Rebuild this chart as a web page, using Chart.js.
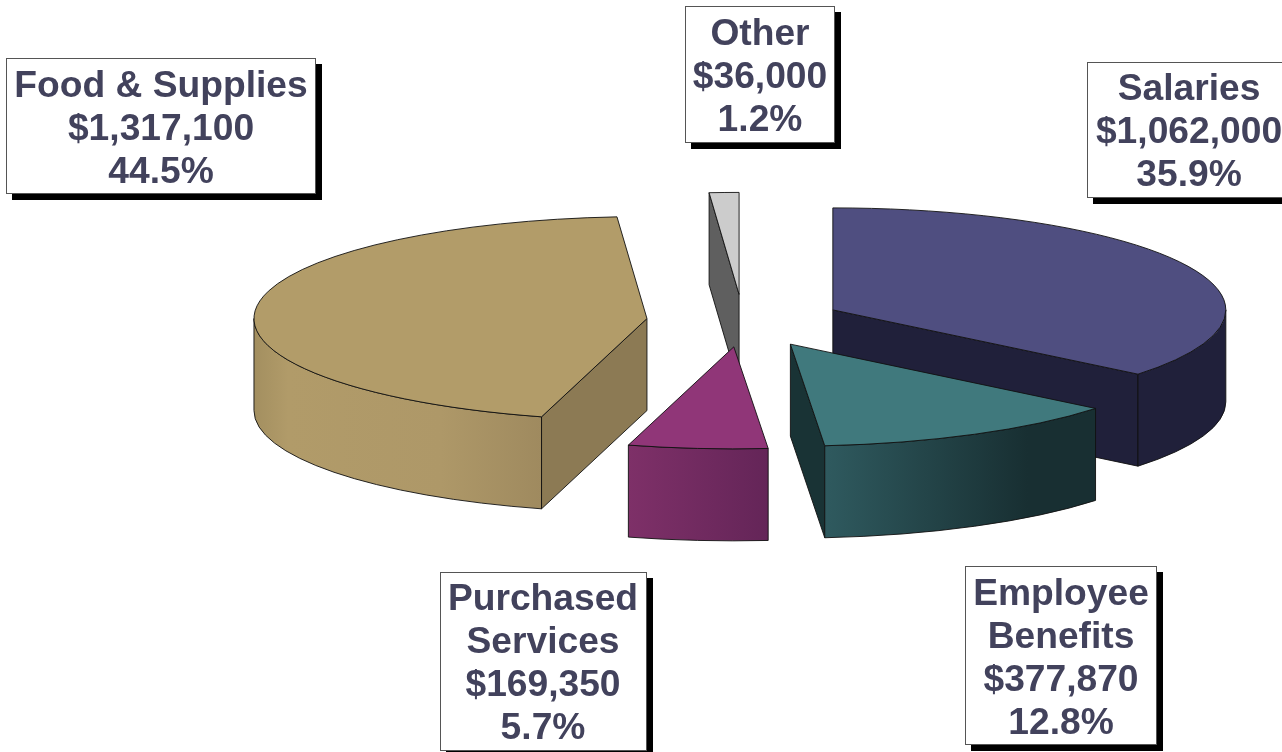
<!DOCTYPE html>
<html>
<head>
<meta charset="utf-8">
<style>html,body{margin:0;padding:0;background:#fff;overflow:hidden}canvas{display:block}</style>
<script src="https://cdn.jsdelivr.net/npm/chart.js@4"></script>
</head>
<body>
<canvas id="c" width="1282" height="752"></canvas>
<script>
// ---- data ----
const categories = ['Salaries', 'Employee Benefits', 'Purchased Services', 'Food & Supplies', 'Other'];
const amounts = [1062000, 377870, 169350, 1317100, 36000];
const percents = ['35.9%', '12.8%', '5.7%', '44.5%', '1.2%'];
// ---- style ----
const labelLines = [['Salaries'], ['Employee', 'Benefits'], ['Purchased', 'Services'], ['Food & Supplies'], ['Other']];
const topColors = ['#4f4e80', '#40797d', '#903678', '#b29c69', '#cccccc'];
const cutColors = ['#20203a', '#193335', '#642558', '#8c7a54', '#5f5f5f'];
const wallStops = [
  [[0, '#20203a'], [1, '#20203a']],
  [[0, '#2f5a5f'], [0.75, '#182f32'], [1, '#182f32']],
  [[0, '#7e3068'], [1, '#642558']],
  [[0, '#a38f60'], [0.12, '#b19b69'], [0.65, '#ae9868'], [1, '#9f8a5f']],
  [[0, '#5f5f5f'], [1, '#5f5f5f']]
];
const sliceOffsets = [398, 404, 400, 386, 410];
const drawOrder = [4, 3, 0, 2, 1];
const PIE = {cx: 743, cy: 321, r: 393, ry: 102, depth: 92};
const boxes = [
  {x: 1087, y: 62, w: 206, h: 136, tx: 1189, base: 100},
  {x: 965, y: 566, w: 192, h: 179, tx: 1061, base: 605},
  {x: 440, y: 572, w: 207, h: 179, tx: 543, base: 610},
  {x: 6, y: 58, w: 310, h: 136, tx: 161, base: 97},
  {x: 685, y: 6, w: 150, h: 137, tx: 760, base: 45}
];
const LINE = 43;
const TEXT = '#42425c';
const FONT = 'bold 37.2px "Liberation Sans", Arial, sans-serif';

const pie3d = {
  id: 'pie3d',
  beforeDatasetsDraw(chart) {
    const ctx = chart.ctx, arcs = chart.getDatasetMeta(0).data;
    const sy = PIE.ry / PIE.r;
    drawOrder.forEach(i => {
      const arc = arcs[i];
      const a0 = arc.startAngle, a1 = arc.endAngle, mid = (a0 + a1) / 2;
      const off = arc.options.offset / 4;
      const cx = PIE.cx + Math.cos(mid) * off, cy = PIE.cy + Math.sin(mid) * off * sy;
      const R = arc.outerRadius, RY = R * sy, D = PIE.depth;
      const px = a => cx + R * Math.cos(a), py = a => cy + RY * Math.sin(a);

      // side faces
      ctx.save();
      ctx.lineWidth = 0.9; ctx.strokeStyle = '#111'; ctx.lineJoin = 'round';
      const quad = a => {
        ctx.beginPath();
        ctx.moveTo(cx, cy); ctx.lineTo(px(a), py(a));
        ctx.lineTo(px(a), py(a) + D); ctx.lineTo(cx, cy + D); ctx.closePath();
        ctx.fillStyle = cutColors[i]; ctx.fill(); ctx.stroke();
      };
      if (Math.cos(a0) < -1e-6) quad(a0);
      if (Math.cos(a1) > 1e-6) quad(a1);
      const w0 = Math.max(a0, 0), w1 = Math.min(a1, Math.PI);
      if (w1 > w0) {
        const g = ctx.createLinearGradient(Math.min(px(w0), px(w1)), 0, Math.max(px(w0), px(w1)), 0);
        wallStops[i].forEach(s => g.addColorStop(s[0], s[1]));
        ctx.beginPath();
        ctx.ellipse(cx, cy, R, RY, 0, w0, w1, false);
        ctx.ellipse(cx, cy + D, R, RY, 0, w1, w0, true);
        ctx.closePath();
        ctx.fillStyle = g; ctx.fill(); ctx.stroke();
      }
      ctx.restore();

      // top face through the library's own arc element (explosion applied by the transform)
      ctx.save();
      ctx.translate(cx - arc.x, cy - arc.y * sy);
      ctx.scale(1, sy);
      const keep = arc.options;
      arc.options = Object.create(keep, {offset: {value: 0}});
      arc.draw(ctx);
      arc.options = keep;
      ctx.restore();

      // top outline, kept at an even stroke width
      ctx.save();
      ctx.lineWidth = 0.9; ctx.strokeStyle = '#111'; ctx.lineJoin = 'round';
      ctx.beginPath();
      ctx.moveTo(cx, cy);
      ctx.ellipse(cx, cy, R, RY, 0, a0, a1, false);
      ctx.closePath();
      ctx.stroke();
      ctx.restore();
    });
    return false;
  },
  afterDraw(chart) {
    const ctx = chart.ctx;
    ctx.save();
    boxes.forEach((b, i) => {
      ctx.fillStyle = '#000';
      ctx.fillRect(b.x + 6, b.y + 6, b.w, b.h);
      ctx.fillStyle = '#fff';
      ctx.fillRect(b.x, b.y, b.w, b.h);
      ctx.strokeStyle = '#555';
      ctx.lineWidth = 1;
      ctx.strokeRect(b.x + 0.5, b.y + 0.5, b.w - 1, b.h - 1);
      const lines = labelLines[i].concat('$' + amounts[i].toLocaleString('en-US'), percents[i]);
      ctx.fillStyle = TEXT;
      ctx.font = FONT;
      ctx.textAlign = 'center';
      ctx.textBaseline = 'alphabetic';
      lines.forEach((t, k) => ctx.fillText(t, b.tx, b.base + k * LINE));
    });
    ctx.restore();
  }
};

new Chart(document.getElementById('c'), {
  type: 'pie',
  data: {
    labels: categories,
    datasets: [{
      data: amounts,
      backgroundColor: topColors,
      borderWidth: 0,
      offset: sliceOffsets,
      radius: PIE.r
    }]
  },
  options: {
    responsive: false,
    animation: false,
    events: [],
    plugins: {legend: {display: false}, tooltip: {enabled: false}}
  },
  plugins: [pie3d]
});
</script>
</body>
</html>
